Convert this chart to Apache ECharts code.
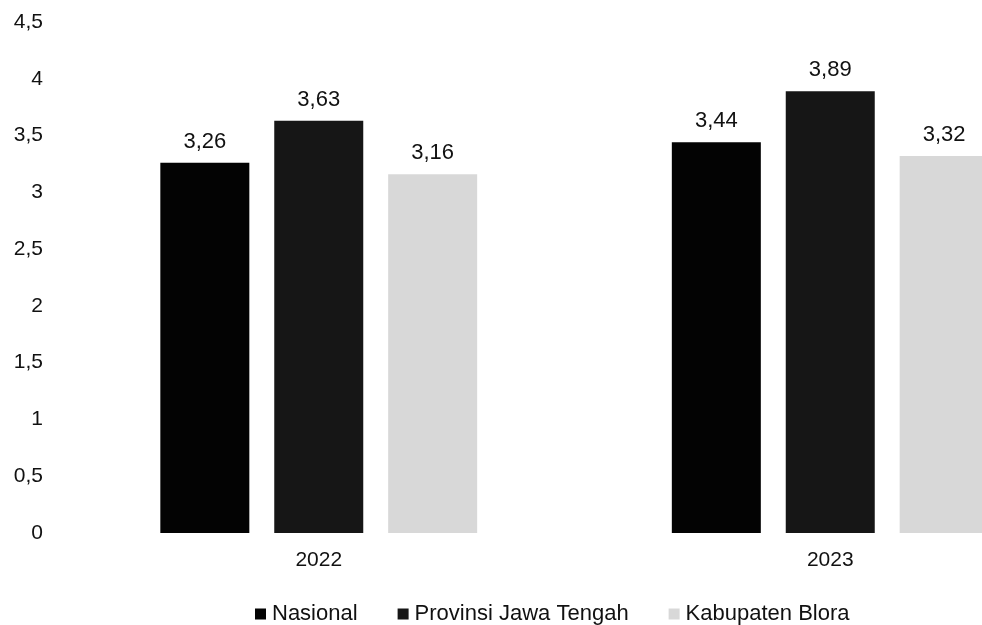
<!DOCTYPE html>
<html>
<head>
<meta charset="utf-8">
<script src="https://cdn.jsdelivr.net/npm/echarts@6/dist/echarts.min.js"></script>
<style>html,body{margin:0;padding:0;background:#fff;overflow:hidden}#c{width:1086px;height:625px}</style>
</head>
<body>
<div id="c"></div>
<script>
const categories = ['2022', '2023'];
const seriesNames = ['Nasional', 'Provinsi Jawa Tengah', 'Kabupaten Blora'];
const nasional = [3.26, 3.44];
const provinsi = [3.63, 3.89];
const kabupaten = [3.16, 3.32];
const yTicks = { min: 0, max: 4.5, interval: 0.5 };

const colors = ['#030303', '#161616', '#d8d8d8'];
const fmt = v => String(v).replace('.', ',');
const font = 'Liberation Sans, Arial, sans-serif';

const chart = echarts.init(document.getElementById('c'), null, { renderer: 'canvas' });
const dataSets = [nasional, provinsi, kabupaten];
chart.setOption({
  animation: false,
  backgroundColor: '#ffffff',
  grid: { left: 63, top: 22, right: 0, bottom: 92 },
  legend: {
    top: 598, left: 250,
    itemWidth: 11, itemHeight: 11, itemGap: 40,
    icon: 'rect',
    textStyle: { fontFamily: font, fontSize: 22, color: '#111', padding: [0, 0, 0, 1] },
    data: seriesNames
  },
  xAxis: {
    type: 'category', data: categories,
    axisLine: { show: false }, axisTick: { show: false },
    axisLabel: { fontFamily: font, fontSize: 21, color: '#111', margin: 17 }
  },
  yAxis: {
    type: 'value', min: yTicks.min, max: yTicks.max, interval: yTicks.interval,
    splitLine: { show: false }, axisLine: { show: false }, axisTick: { show: false },
    axisLabel: { fontFamily: font, fontSize: 21, color: '#111', margin: 20, padding: [4, 0, 0, 0], formatter: v => fmt(v) }
  },
  series: seriesNames.map((name, i) => ({
    name, type: 'bar', data: dataSets[i],
    barWidth: 89, barGap: '28%',
    itemStyle: { color: colors[i] },
    label: {
      show: true, position: 'top', distance: 10,
      fontFamily: font, fontSize: 22, color: '#111',
      formatter: p => fmt(p.value.toFixed(2))
    }
  }))
});
</script>
</body>
</html>
